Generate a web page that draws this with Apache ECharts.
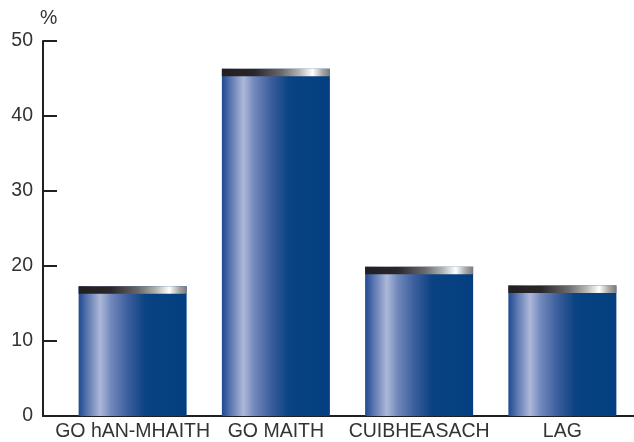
<!DOCTYPE html>
<html>
<head>
<meta charset="utf-8">
<script src="https://cdn.jsdelivr.net/npm/echarts@6/dist/echarts.min.js"></script>
<style>
html,body{margin:0;padding:0;background:#fff;}
#chart{width:634px;height:442px;}
</style>
</head>
<body>
<div id="chart"></div>
<script>
const categories = ['GO hAN-MHAITH', 'GO MAITH', 'CUIBHEASACH', 'LAG'];
const values = [17.3, 46.3, 19.9, 17.4];
const yMin = 0, yMax = 50, yStep = 10;
const yUnitLabel = '%';

const FONT = "'Liberation Sans', Arial, sans-serif";
const TEXT = '#333333';
const AXIS = '#231f20';
const BAR_W = 108;

const blueFill = new echarts.graphic.LinearGradient(0, 0, 1, 0, [
  { offset: 0, color: '#1c4a8f' },
  { offset: 0.08, color: '#5b76b0' },
  { offset: 0.2, color: '#adb8d9' },
  { offset: 0.3, color: '#7188bb' },
  { offset: 0.45, color: '#3d5f9e' },
  { offset: 0.62, color: '#0a4282' },
  { offset: 1, color: '#033f80' }
]);
const capFill = new echarts.graphic.LinearGradient(0, 0, 1, 0, [
  { offset: 0, color: '#221f20' },
  { offset: 0.3, color: '#29262a' },
  { offset: 0.55, color: '#6a686a' },
  { offset: 0.72, color: '#b5b5b5' },
  { offset: 0.84, color: '#ffffff' },
  { offset: 0.93, color: '#a8a8a8' },
  { offset: 1, color: '#7a7a7a' }
]);

const chart = echarts.init(document.getElementById('chart'), null, { renderer: 'canvas' });
chart.setOption({
  animation: false,
  backgroundColor: '#ffffff',
  grid: [
    { left: 61, right: 0, top: 41, bottom: 26 },
    { left: 43, right: 0, top: 41, bottom: 26 }
  ],
  xAxis: [
    {
      type: 'category', gridIndex: 0, data: categories,
      axisLine: { show: true, lineStyle: { color: AXIS, width: 2 } },
      axisTick: { show: false },
      axisLabel: { color: TEXT, fontSize: 19.5, fontFamily: FONT, margin: 6, interval: 0 }
    },
    {
      type: 'value', gridIndex: 1, min: 0, max: 1,
      axisLine: { show: true, lineStyle: { color: AXIS, width: 2 } },
      axisTick: { show: false }, axisLabel: { show: false }, splitLine: { show: false }
    }
  ],
  yAxis: [
    {
      type: 'value', gridIndex: 0, min: yMin, max: yMax, interval: yStep,
      offset: 18,
      name: yUnitLabel, nameLocation: 'end', nameGap: 12,
      nameTextStyle: { color: TEXT, fontSize: 19.5, fontFamily: FONT, align: 'left', padding: [0, 0, 0, -3] },
      axisLine: { show: true, lineStyle: { color: AXIS, width: 2 } },
      axisTick: { show: true, inside: true, length: 14, lineStyle: { color: AXIS, width: 2 } },
      axisLabel: { color: TEXT, fontSize: 19.5, fontFamily: FONT, margin: 10 },
      splitLine: { show: false }
    },
    {
      type: 'value', gridIndex: 1, min: 0, max: 1, show: false
    }
  ],
  series: [
    {
      type: 'bar', xAxisIndex: 0, yAxisIndex: 0,
      data: values, barWidth: BAR_W,
      itemStyle: { color: blueFill },
      z: 2
    },
    {
      type: 'custom', xAxisIndex: 0, yAxisIndex: 0,
      data: values.map((v, i) => [i, v]),
      z: 3,
      renderItem: function (params, api) {
        const top = api.coord([api.value(0), api.value(1)]);
        const capH = api.size([0, 1])[1];
        return {
          type: 'rect',
          shape: { x: top[0] - BAR_W / 2, y: top[1], width: BAR_W, height: capH },
          style: { fill: capFill }
        };
      }
    }
  ]
});
</script>
</body>
</html>
